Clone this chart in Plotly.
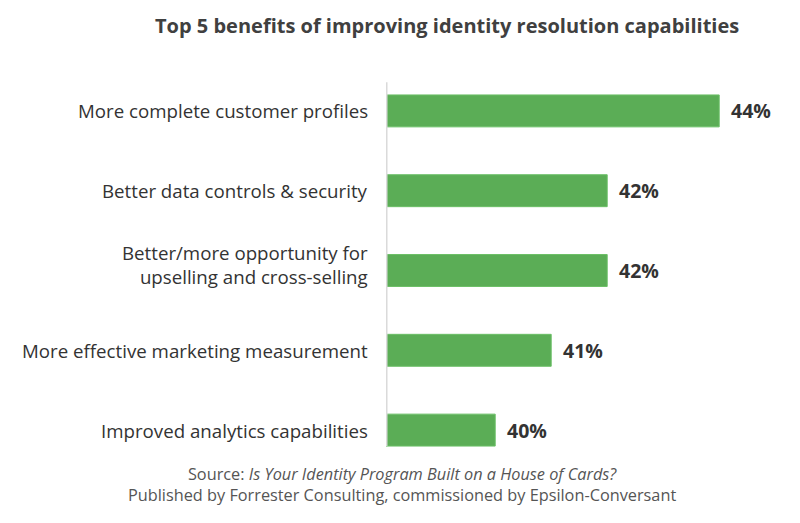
import plotly.graph_objects as go

categories = [
    "More complete customer profiles",
    "Better data controls & security",
    "Better/more opportunity for<br>upselling and cross-selling",
    "More effective marketing measurement",
    "Improved analytics capabilities",
]
values = [44, 42, 42, 41, 40]
value_labels = ["44%", "42%", "42%", "41%", "40%"]

FONT = "'Open Sans', 'Noto Sans', sans-serif"
X0 = 38.05

fig = go.Figure()
fig.add_trace(go.Bar(
    y=categories,
    x=[v - X0 for v in values],
    base=X0,
    orientation="h",
    width=0.4,
    marker=dict(color="#5BAD56", line=dict(color="#6BBF66", width=1)),
    hoverinfo="skip",
))

for cat, v, lab in zip(categories, values, value_labels):
    fig.add_annotation(
        x=v, y=cat, xref="x", yref="y",
        text=f"<b>{lab}</b>", showarrow=False,
        xanchor="left", xshift=10,
        font=dict(family=FONT, size=19.5, color="#333333"),
    )
    # category label
    fig.add_annotation(
        x=0, y=cat, xref="paper", yref="y",
        text=cat, showarrow=False, align="right",
        xanchor="right", xshift=-16,
        yshift=6 if "<br>" in cat else 0,
        font=dict(family=FONT, size=18.7, color="#333333"),
    )

# vertical axis line
fig.add_shape(type="line", xref="x", yref="paper",
              x0=X0, x1=X0, y0=0.06, y1=0.972,
              line=dict(color="#DADADA", width=3))

fig.add_annotation(
    text="<b>Top 5 benefits of improving identity resolution capabilities</b>",
    xref="paper", yref="paper", x=0.155, y=1.0, yshift=46,
    xanchor="center", yanchor="middle", showarrow=False,
    font=dict(family=FONT, size=20, color="#404040"),
)
fig.add_annotation(
    text="Source: <i>Is Your Identity Program Built on a House of Cards?</i><br>"
         "Published by Forrester Consulting, commissioned by Epsilon-Conversant",
    xref="paper", yref="paper", x=0.04, y=0, yshift=-14.5,
    xanchor="center", yanchor="middle", showarrow=False, align="center",
    font=dict(family=FONT, size=16.3, color="#555555"),
)

fig.update_layout(
    width=792, height=515,
    margin=dict(l=378, r=21, t=63, b=53),
    paper_bgcolor="white", plot_bgcolor="white",
    showlegend=False,
    xaxis=dict(range=[X0, X0 + 393 / 56], visible=False, fixedrange=True),
    yaxis=dict(
        categoryorder="array", categoryarray=categories,
        autorange="reversed", showgrid=False, zeroline=False,
        showline=False, ticks="", showticklabels=False,
    ),
)

fig.write_html("out.html")
